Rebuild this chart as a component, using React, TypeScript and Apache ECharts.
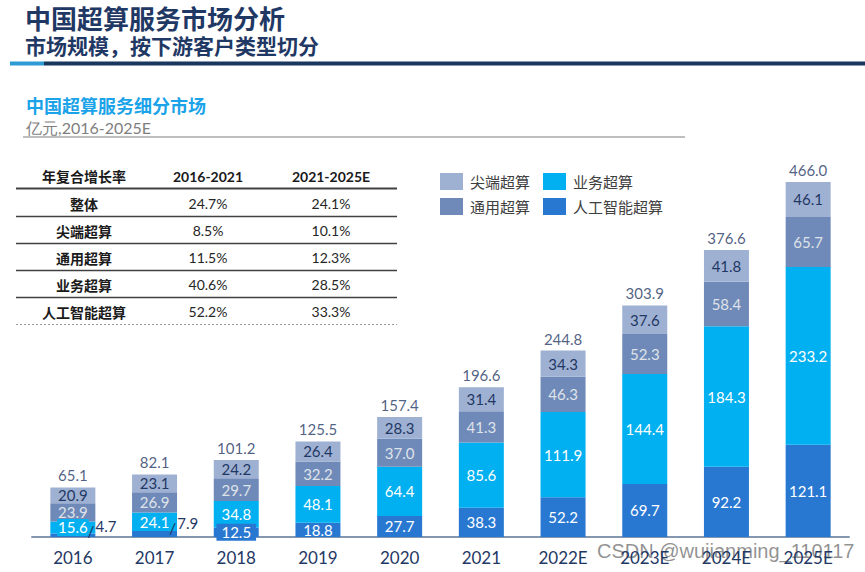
import React, { useEffect, useRef } from "react";
import * as echarts from "echarts";

const years = ["2016", "2017", "2018", "2019", "2020", "2021", "2022E", "2023E", "2024E", "2025E"];
const topEnd = [20.9, 23.1, 24.2, 26.4, 28.3, 31.4, 34.3, 37.6, 41.8, 46.1];
const general = [23.9, 26.9, 29.7, 32.2, 37.0, 41.3, 46.3, 52.3, 58.4, 65.7];
const business = [15.6, 24.1, 34.8, 48.1, 64.4, 85.6, 111.9, 144.4, 184.3, 233.2];
const ai = [4.7, 7.9, 12.5, 18.8, 27.7, 38.3, 52.2, 69.7, 92.2, 121.1];
const totals = [65.1, 82.1, 101.2, 125.5, 157.4, 196.6, 244.8, 303.9, 376.6, 466.0];

const seriesNames = ["尖端超算", "通用超算", "业务超算", "人工智能超算"];

const tableHeader = ["年复合增长率", "2016-2021", "2021-2025E"];
const tableRows = ["整体", "尖端超算", "通用超算", "业务超算", "人工智能超算"];
const cagr1621 = ["24.7%", "8.5%", "11.5%", "40.6%", "52.2%"];
const cagr2125 = ["24.1%", "10.1%", "12.3%", "28.5%", "33.3%"];

const C_TOP = "#9fb1d3";
const C_GEN = "#6f8ab8";
const C_BUS = "#00b0f0";
const C_AI = "#2878d2";
const NAVY = "#1f3864";
const CJK = '"Noto Sans CJK SC"';
const NUM = "Lato";

function txt(x: number, y: number, text: string, font: string, fill: string, align = "left") {
  return {
    type: "text",
    x,
    y,
    style: {
      text,
      font,
      fill,
      textAlign: align,
      align,
      textVerticalAlign: "middle",
      verticalAlign: "middle",
    },
  };
}

function hline(x1: number, x2: number, y: number, stroke: string, lineWidth: number, dash?: number[]) {
  return {
    type: "line",
    shape: { x1, y1: y, x2, y2: y },
    style: { stroke, lineWidth, lineDash: dash },
  };
}

export default function App() {
  const ref = useRef<HTMLDivElement>(null);
  useEffect(() => {
    if (!ref.current) return;
    const chart = echarts.init(ref.current, null, { renderer: "svg" });

    const graphics: any[] = [];
    graphics.push(txt(25, 17, "中国超算服务市场分析", `bold 26px ${CJK}`, NAVY));
    graphics.push(txt(25, 45, "市场规模，按下游客户类型切分", `bold 21px ${CJK}`, NAVY));
    graphics.push({ type: "rect", shape: { x: 10, y: 61.5, width: 34, height: 4 }, style: { fill: "#2e9bd6" } });
    graphics.push({ type: "rect", shape: { x: 44, y: 61.5, width: 821, height: 4 }, style: { fill: "#17375e" } });
    graphics.push(txt(26, 105, "中国超算服务细分市场", `bold 18px ${CJK}`, "#1aa3e8"));
    graphics.push(txt(26, 127, "亿元,2016-2025E", `16px ${NUM}`, "#7f7f7f"));
    graphics.push(hline(23, 685, 137, "#bfbfbf", 2));

    // table
    const colX = [84, 208, 331];
    graphics.push(txt(colX[0], 176, tableHeader[0], `bold 14px ${CJK}`, "#1a1a1a", "center"));
    graphics.push(txt(colX[1], 176, tableHeader[1], `bold 14px ${NUM}`, "#1a1a1a", "center"));
    graphics.push(txt(colX[2], 176, tableHeader[2], `bold 14px ${NUM}`, "#1a1a1a", "center"));
    graphics.push(hline(16, 397, 188.5, "#404040", 2));
    tableRows.forEach((r, i) => {
      const y = 203.5 + 27 * i;
      graphics.push(txt(colX[0], y, r, `bold 14px ${CJK}`, "#1a1a1a", "center"));
      graphics.push(txt(colX[1], y, cagr1621[i], `14px ${NUM}`, "#262626", "center"));
      graphics.push(txt(colX[2], y, cagr2125[i], `14px ${NUM}`, "#262626", "center"));
      if (i < tableRows.length - 1) graphics.push(hline(16, 397, 216.5 + 27 * i, "#404040", 1.5));
    });
    graphics.push(hline(16, 397, 324.5, "#9a9a9a", 1, [2, 2]));

    graphics.push(txt(597, 551, "CSDN @wujianming_110117", `20px "Liberation Sans"`, "rgba(110,110,110,0.75)"));

    const labelBase = { show: true, fontFamily: NUM, fontSize: 15 };

    const aiData = ai.map((v) => {
      if (v < 10)
        return {
          value: v,
          label: {
            show: true,
            position: [37, -15],
            align: "left",
            verticalAlign: "top",
            formatter: "{s|/}{v|" + v.toFixed(1) + "}",
            rich: {
              s: { fontFamily: NUM, fontSize: 16, color: NAVY, padding: [4, 1, 0, 0], verticalAlign: "bottom" },
              v: { fontFamily: NUM, fontSize: 15, color: NAVY, verticalAlign: "top" },
            },
          },
        };
      if (v < 14)
        return { value: v, label: { backgroundColor: C_AI, padding: [1, 5] } };
      return v;
    });
    const busData = business.map((v) =>
      v < 20 ? { value: v, label: { backgroundColor: C_BUS, padding: [1, 1] } } : v
    );

    const fmt = (p: any) => Number(p.value).toFixed(1);

    const option: any = {
      animation: false,
      backgroundColor: "#ffffff",
      grid: { left: 32, right: 16, top: 150, bottom: 35 },
      legend: [
        {
          data: [seriesNames[0], seriesNames[1]],
          orient: "vertical",
          left: 435,
          top: 168,
          itemWidth: 23,
          itemHeight: 17,
          itemGap: 8,
          icon: "rect",
          selectedMode: false,
          textStyle: { fontFamily: CJK, fontSize: 15, color: "#404040", padding: [0, 0, 0, 2] },
        },
        {
          data: [seriesNames[2], seriesNames[3]],
          orient: "vertical",
          left: 538,
          top: 168,
          itemWidth: 23,
          itemHeight: 17,
          itemGap: 8,
          icon: "rect",
          selectedMode: false,
          textStyle: { fontFamily: CJK, fontSize: 15, color: "#404040", padding: [0, 0, 0, 2] },
        },
      ],
      xAxis: {
        type: "category",
        data: years,
        axisLine: { lineStyle: { color: "#8497b0", width: 2 } },
        axisTick: { show: false },
        axisLabel: { fontFamily: NUM, fontSize: 17, color: NAVY, margin: 12 },
      },
      yAxis: { type: "value", min: 0, max: 508, show: false, splitLine: { show: false } },
      graphic: graphics,
      series: [
        {
          name: seriesNames[3],
          type: "bar",
          stack: "s",
          barWidth: 45,
          data: aiData,
          itemStyle: { color: C_AI },
          label: { ...labelBase, color: "#ffffff", formatter: fmt },
        },
        {
          name: seriesNames[2],
          type: "bar",
          stack: "s",
          data: busData,
          itemStyle: { color: C_BUS },
          label: { ...labelBase, color: "#ffffff", formatter: fmt },
        },
        {
          name: seriesNames[1],
          type: "bar",
          stack: "s",
          data: general,
          itemStyle: { color: C_GEN },
          label: { ...labelBase, color: "#dfe3ea", formatter: fmt },
        },
        {
          name: seriesNames[0],
          type: "bar",
          stack: "s",
          data: topEnd,
          itemStyle: { color: C_TOP },
          label: { ...labelBase, color: NAVY, formatter: fmt },
        },
        {
          name: "total",
          type: "scatter",
          data: totals,
          symbolSize: 1,
          itemStyle: { color: "rgba(0,0,0,0)" },
          label: { ...labelBase, position: "top", distance: 4, color: NAVY, formatter: fmt },
          silent: true,
        },
      ],
    };
    chart.setOption(option);
    return () => chart.dispose();
  }, []);
  return (
    <div
      ref={ref}
      style={{ position: "absolute", left: 0, top: 0, width: 865, height: 572, background: "#fff" }}
    />
  );
}
